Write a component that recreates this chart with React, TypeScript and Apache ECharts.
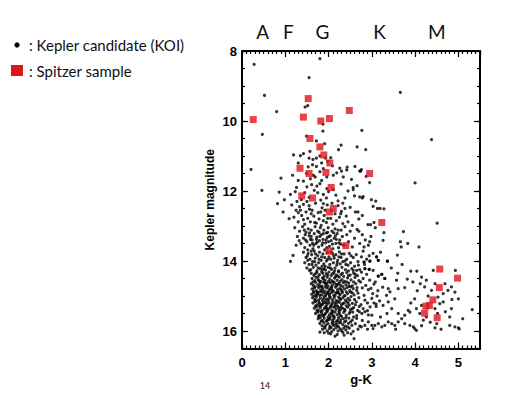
import React, { useEffect, useRef } from "react";
import * as echarts from "echarts";

// Spectral-type labels along the top (g-K position, approximate)
const spectralTypes = ["A", "F", "G", "K", "M"];
const spectralX = [0.48, 1.07, 1.86, 3.18, 4.5];

// Spitzer sample [g-K, Kepler magnitude]
const spitzerSample: number[][] = [
  [0.26, 9.96], [1.53, 9.36], [1.42, 9.89], [1.82, 10.0], [2.02, 9.93], [2.48, 9.7],
  [1.57, 10.5], [1.8, 10.74], [1.89, 10.97], [2.03, 11.2], [1.34, 11.35], [1.55, 11.5],
  [1.94, 11.47], [2.95, 11.5], [2.06, 11.9], [1.38, 12.14], [1.63, 12.2], [2.11, 12.5],
  [2.02, 12.6], [3.23, 12.9], [2.4, 13.56], [2.01, 13.72], [4.57, 14.23], [4.98, 14.49],
  [4.56, 14.76], [4.41, 15.11], [4.33, 15.27], [4.25, 15.29], [4.22, 15.49], [4.51, 15.62],
];

// Kepler candidates (KOI) - sparse / bright ones
const koiSparse: number[][] = [
  [0.28, 8.38], [1.8, 8.22], [1.55, 8.76], [0.52, 9.27], [0.8, 9.73], [1.46, 9.6], [1.52, 9.56],
  [3.66, 9.18], [0.47, 10.38], [1.87, 10.29], [1.87, 10.09], [1.49, 10.43], [1.72, 10.57],
  [2.29, 10.69], [2.23, 10.82], [2.66, 10.74], [2.77, 10.27], [4.38, 10.53], [4.0, 11.77],
  [1.19, 10.97], [1.35, 10.99], [1.42, 10.93], [1.57, 10.87], [1.55, 11.06], [1.64, 11.1],
  [1.72, 11.06], [1.8, 11.0], [1.91, 10.65], [1.93, 11.06], [2.86, 10.82], [0.9, 11.63],
  [0.46, 11.98], [0.86, 12.03], [0.82, 12.36], [0.21, 11.38], [1.12, 14.01], [1.18, 13.84],
  [1.09, 12.79], [0.95, 12.6], [0.98, 12.25],
];

// upper branch, Kp ~ 11 - 13
const koiUpper: number[][] = [
  [1.84, 11.2], [1.72, 11.3], [1.63, 11.25], [2.26, 11.35], [2.09, 11.28], [2.43, 11.32],
  [2.61, 11.3], [1.17, 11.55], [1.49, 11.5], [1.65, 11.55], [1.8, 11.45], [2.19, 11.48],
  [2.42, 11.4], [2.3, 11.43], [2.72, 11.43], [2.76, 11.39], [1.69, 11.6], [1.88, 11.36],
  [1.53, 11.31], [2.74, 11.43], [2.87, 11.58], [1.3, 11.2], [2.05, 11.05], [1.98, 11.15],
  [1.3, 11.7], [1.5, 11.88], [1.61, 11.82], [1.73, 11.86], [1.8, 11.79], [1.96, 11.93],
  [2.11, 11.96], [1.84, 11.7], [1.96, 11.6], [2.11, 11.55], [2.34, 11.6], [2.53, 11.67],
  [2.57, 11.9], [2.57, 11.96], [2.95, 11.76], [1.42, 11.72], [1.58, 11.65], [1.67, 11.98],
  [1.75, 12.05], [1.88, 12.1], [2.0, 12.02], [2.17, 12.12], [2.29, 11.8], [2.45, 12.0],
  [2.6, 12.14], [2.72, 12.17], [2.78, 12.2], [2.8, 12.16], [2.99, 12.25], [3.09, 12.29],
  [1.23, 12.02], [1.37, 12.25], [1.45, 12.05], [1.55, 12.18], [1.82, 12.26], [1.95, 12.2],
  [2.22, 12.28], [2.38, 12.2], [1.12, 12.1], [1.26, 11.9], [2.66, 11.85],
  [1.15, 12.4], [1.25, 12.55], [1.33, 12.45], [1.42, 12.38], [1.48, 12.6], [1.55, 12.42],
  [1.62, 12.55], [1.7, 12.35], [1.76, 12.62], [1.85, 12.48], [1.9, 12.7], [1.97, 12.4],
  [2.15, 12.65], [2.22, 12.42], [2.3, 12.58], [2.41, 12.72], [2.5, 12.47], [2.62, 12.6],
  [2.7, 12.8], [3.03, 12.44], [3.19, 12.5], [3.28, 12.51], [3.13, 12.5], [2.68, 12.6],
  [2.91, 12.96], [2.97, 12.96], [3.05, 12.9], [1.2, 12.75], [1.3, 12.88], [1.38, 12.7],
  [1.45, 12.95], [1.52, 12.78], [1.58, 12.88], [1.66, 12.72], [1.72, 12.92], [1.78, 12.8],
  [1.83, 12.98], [1.88, 12.85], [1.95, 12.9], [2.05, 12.78], [2.1, 12.95], [2.18, 12.85],
  [2.25, 12.75], [2.33, 12.93], [2.45, 12.88], [2.55, 12.98], [2.78, 12.7], [1.35, 12.55],
  [1.6, 12.65], [1.92, 12.55], [2.08, 12.35], [2.38, 12.5], [1.27, 12.3],
  [1.3, 12.62], [1.42, 12.82], [1.56, 12.52], [1.68, 12.9], [1.82, 12.6], [1.98, 12.78],
  [2.28, 12.65], [1.5, 12.3], [1.88, 12.36], [2.33, 12.35],
];

// Kp ~ 13 - 14.3
const koiMiddle: number[][] = [
  [1.22, 13.05], [1.28, 13.3], [1.33, 13.15], [1.36, 13.5], [1.4, 13.02], [1.42, 13.35],
  [1.45, 13.62], [1.48, 13.18], [1.5, 13.45], [1.53, 13.08], [1.55, 13.28], [1.57, 13.55],
  [1.6, 13.12], [1.62, 13.4], [1.64, 13.65], [1.67, 13.22], [1.69, 13.02], [1.71, 13.5],
  [1.73, 13.32], [1.75, 13.15], [1.77, 13.6], [1.79, 13.42], [1.81, 13.05], [1.83, 13.25],
  [1.85, 13.55], [1.87, 13.38], [1.89, 13.12], [1.91, 13.68], [1.93, 13.48], [1.95, 13.2],
  [1.97, 13.33], [1.99, 13.05], [2.02, 13.58], [2.04, 13.28], [2.06, 13.42], [2.08, 13.15],
  [2.1, 13.65], [2.13, 13.35], [2.15, 13.08], [2.17, 13.5], [2.2, 13.22], [2.23, 13.62],
  [2.26, 13.4], [2.29, 13.12], [2.32, 13.3], [2.35, 13.55], [2.38, 13.02], [2.42, 13.25],
  [2.46, 13.45], [2.5, 13.15], [2.55, 13.6], [2.6, 13.35], [2.66, 13.1], [2.72, 13.5],
  [2.78, 13.25], [2.85, 13.4], [2.92, 13.55], [2.98, 13.3], [3.08, 13.05], [3.28, 13.19],
  [3.73, 13.16], [4.51, 12.92], [3.26, 13.41], [3.66, 13.45], [3.83, 13.5], [4.09, 13.6],
  [3.68, 13.6], [2.7, 13.15], [2.82, 13.6], [2.95, 13.45], [1.58, 13.38], [1.74, 13.46],
  [1.88, 13.22], [2.0, 13.45], [2.12, 13.2], [2.28, 13.52], [1.46, 13.25], [1.66, 13.55],
  [1.96, 13.62], [2.18, 13.38], [1.32, 13.42], [1.25, 13.55], [1.52, 13.68],
  [1.42, 13.75], [1.45, 14.05], [1.48, 13.9], [1.5, 14.2], [1.53, 13.78], [1.55, 14.1],
  [1.57, 13.95], [1.59, 14.25], [1.61, 13.82], [1.63, 14.02], [1.65, 14.18], [1.67, 13.72],
  [1.69, 13.92], [1.71, 14.12], [1.73, 14.28], [1.75, 13.85], [1.77, 14.05], [1.79, 13.75],
  [1.81, 14.22], [1.83, 13.98], [1.85, 14.15], [1.87, 13.8], [1.89, 14.08], [1.91, 13.9],
  [1.93, 14.26], [1.95, 14.0], [1.97, 13.76], [1.99, 14.18], [2.01, 13.88], [2.03, 14.1],
  [2.05, 13.95], [2.07, 14.24], [2.09, 13.78], [2.11, 14.05], [2.13, 13.92], [2.15, 14.2],
  [2.17, 13.82], [2.19, 14.12], [2.21, 13.98], [2.23, 14.28], [2.25, 13.74], [2.27, 14.08],
  [2.29, 13.9], [2.31, 14.18], [2.33, 14.02], [2.36, 13.8], [2.39, 14.25], [2.42, 13.95],
  [2.45, 14.12], [2.48, 13.78], [2.51, 14.05], [2.54, 14.22], [2.57, 13.9], [2.6, 14.15],
  [2.64, 13.82], [2.68, 14.02], [2.72, 14.25], [2.76, 13.88], [2.8, 13.72], [2.83, 14.1],
  [2.88, 13.95], [2.94, 14.24], [2.82, 14.03], [2.96, 14.0], [3.11, 13.88], [3.15, 13.98],
  [3.36, 14.0], [2.69, 14.12], [2.65, 14.27], [2.84, 14.22], [2.94, 13.85], [3.03, 13.78],
  [3.2, 13.75], [3.59, 13.83], [1.6, 13.72], [1.78, 13.95], [1.92, 14.15], [2.06, 13.75],
  [2.24, 13.88], [2.38, 14.0], [2.52, 13.85], [1.68, 14.02], [1.86, 14.25], [2.14, 14.28],
  [2.46, 14.28], [1.52, 13.98],
  [1.47, 13.4], [1.56, 13.2], [1.63, 13.5], [1.72, 13.38], [1.8, 13.3], [1.86, 13.48],
  [1.94, 13.4], [2.01, 13.3], [2.09, 13.52], [2.16, 13.28], [2.24, 13.48], [1.51, 13.85],
  [1.62, 14.1], [1.7, 13.8], [1.76, 14.2], [1.84, 13.88], [1.9, 14.22], [1.98, 13.95],
  [2.04, 14.2], [2.12, 13.85], [2.2, 14.05], [2.3, 13.8], [2.4, 14.1], [1.56, 14.27],
  [2.57, 14.27], [1.44, 13.12], [1.6, 13.3], [1.78, 13.18], [1.98, 13.18], [2.22, 13.12],
];

// dense main-sequence core, Kp ~ 14.3 - 16.2
const koiCore: number[][] = [
  [1.6, 14.35], [1.66, 14.41], [1.73, 14.33], [1.79, 14.39], [1.84, 14.31], [1.9, 14.43],
  [1.95, 14.36], [2.01, 14.32], [2.06, 14.42], [2.12, 14.34], [2.18, 14.4], [2.23, 14.31],
  [2.29, 14.38], [2.35, 14.44], [2.42, 14.33], [2.5, 14.4], [2.58, 14.35], [2.67, 14.42],
  [2.76, 14.32], [2.88, 14.38], [3.15, 14.43], [3.23, 14.38], [3.3, 14.5],
  [1.62, 14.5], [1.68, 14.56], [1.71, 14.47], [1.76, 14.53], [1.82, 14.58], [1.86, 14.48],
  [1.92, 14.55], [1.97, 14.46], [2.03, 14.52], [2.08, 14.57], [2.14, 14.49], [2.2, 14.55],
  [2.25, 14.46], [2.31, 14.53], [2.37, 14.58], [2.44, 14.48], [2.52, 14.54], [2.61, 14.47],
  [2.7, 14.56], [2.8, 14.5], [2.95, 14.55], [1.88, 14.51], [2.16, 14.45],
  [1.6, 14.65], [1.65, 14.7], [1.7, 14.61], [1.75, 14.68], [1.8, 14.63], [1.85, 14.72],
  [1.89, 14.6], [1.94, 14.67], [1.99, 14.72], [2.04, 14.62], [2.09, 14.69], [2.13, 14.61],
  [2.19, 14.71], [2.24, 14.64], [2.28, 14.7], [2.34, 14.62], [2.4, 14.68], [2.47, 14.63],
  [2.55, 14.71], [2.63, 14.65], [2.74, 14.6], [2.86, 14.7], [3.05, 14.66], [1.96, 14.64],
  [2.22, 14.66],
  [1.62, 14.8], [1.67, 14.77], [1.72, 14.85], [1.77, 14.76], [1.82, 14.83], [1.87, 14.79],
  [1.91, 14.86], [1.96, 14.77], [2.01, 14.84], [2.06, 14.78], [2.11, 14.87], [2.16, 14.75],
  [2.21, 14.82], [2.26, 14.78], [2.31, 14.86], [2.37, 14.8], [2.43, 14.76], [2.49, 14.85],
  [2.57, 14.79], [2.65, 14.84], [2.78, 14.77], [2.92, 14.82], [3.14, 14.85], [2.03, 14.8],
  [1.84, 14.75],
  [1.61, 14.95], [1.66, 14.9], [1.71, 14.98], [1.75, 14.92], [1.8, 14.88], [1.84, 14.97],
  [1.89, 14.91], [1.93, 14.99], [1.98, 14.89], [2.02, 14.95], [2.07, 14.9], [2.12, 14.98],
  [2.17, 14.92], [2.22, 14.88], [2.27, 14.96], [2.32, 14.9], [2.38, 14.99], [2.44, 14.93],
  [2.51, 14.89], [2.59, 14.97], [2.68, 14.92], [2.82, 14.98], [3.02, 14.93], [1.95, 14.94],
  [2.24, 14.93],
  [1.63, 15.05], [1.68, 15.1], [1.72, 15.03], [1.77, 15.12], [1.81, 15.06], [1.86, 15.13],
  [1.9, 15.02], [1.95, 15.09], [1.99, 15.14], [2.04, 15.04], [2.08, 15.11], [2.13, 15.06],
  [2.18, 15.13], [2.23, 15.03], [2.28, 15.1], [2.33, 15.05], [2.39, 15.12], [2.45, 15.07],
  [2.52, 15.02], [2.6, 15.1], [2.7, 15.05], [2.84, 15.12], [3.0, 15.07], [3.18, 15.14],
  [2.0, 15.08],
  [1.64, 15.2], [1.69, 15.16], [1.74, 15.25], [1.78, 15.18], [1.83, 15.27], [1.88, 15.2],
  [1.92, 15.16], [1.97, 15.24], [2.01, 15.19], [2.06, 15.27], [2.11, 15.17], [2.15, 15.23],
  [2.2, 15.28], [2.25, 15.18], [2.3, 15.25], [2.36, 15.2], [2.42, 15.16], [2.48, 15.26],
  [2.55, 15.21], [2.64, 15.17], [2.75, 15.25], [2.9, 15.2], [3.1, 15.23], [1.86, 15.24],
  [2.18, 15.2],
  [1.67, 15.35], [1.72, 15.31], [1.76, 15.4], [1.81, 15.33], [1.85, 15.42], [1.9, 15.36],
  [1.94, 15.3], [1.99, 15.39], [2.03, 15.34], [2.08, 15.41], [2.12, 15.32], [2.17, 15.38],
  [2.22, 15.31], [2.27, 15.4], [2.32, 15.35], [2.38, 15.42], [2.44, 15.32], [2.51, 15.38],
  [2.58, 15.33], [2.67, 15.41], [2.8, 15.36], [2.96, 15.31], [1.96, 15.35], [2.24, 15.36],
  [1.7, 15.5], [1.75, 15.46], [1.79, 15.55], [1.84, 15.48], [1.88, 15.57], [1.93, 15.5],
  [1.97, 15.45], [2.02, 15.54], [2.06, 15.48], [2.11, 15.57], [2.15, 15.46], [2.2, 15.53],
  [2.25, 15.49], [2.3, 15.58], [2.35, 15.47], [2.41, 15.55], [2.48, 15.5], [2.56, 15.46],
  [2.65, 15.56], [2.77, 15.5], [2.92, 15.54], [2.08, 15.52], [1.91, 15.53],
  [1.76, 15.65], [1.81, 15.62], [1.86, 15.7], [1.9, 15.63], [1.95, 15.72], [1.99, 15.66],
  [2.04, 15.61], [2.09, 15.69], [2.13, 15.64], [2.18, 15.73], [2.23, 15.62], [2.28, 15.68],
  [2.34, 15.65], [2.4, 15.71], [2.47, 15.63], [2.55, 15.69], [2.65, 15.64], [2.78, 15.7],
  [2.02, 15.67], [2.21, 15.7],
  [1.8, 15.78], [1.85, 15.85], [1.89, 15.76], [1.94, 15.83], [1.99, 15.79], [2.03, 15.87],
  [2.08, 15.77], [2.13, 15.84], [2.18, 15.8], [2.23, 15.88], [2.28, 15.76], [2.33, 15.82],
  [2.39, 15.86], [2.46, 15.78], [2.54, 15.84], [2.62, 15.79], [2.72, 15.86], [2.1, 15.81],
  [1.86, 15.95], [1.92, 15.92], [1.97, 16.0], [2.02, 15.93], [2.07, 16.02], [2.12, 15.96],
  [2.17, 15.91], [2.22, 16.0], [2.27, 15.94], [2.33, 16.04], [2.4, 15.97], [2.48, 15.92],
  [2.57, 16.01], [2.68, 15.95], [1.8, 16.03], [2.05, 16.08], [2.2, 16.1], [2.36, 16.12],
  [2.52, 16.08], [2.59, 16.22], [2.15, 16.15],
];

// extra points in the crowded core
const koiCoreFill: number[][] = [
  [1.69, 14.37], [1.76, 14.45], [1.87, 14.35], [1.98, 14.4], [2.09, 14.37], [2.21, 14.43],
  [2.32, 14.35], [2.46, 14.42], [2.62, 14.38], [1.64, 14.6], [1.78, 14.57], [1.91, 14.62],
  [2.0, 14.58], [2.11, 14.6], [2.27, 14.58], [2.42, 14.6], [2.58, 14.6], [1.69, 14.74],
  [1.79, 14.71], [1.93, 14.73], [2.07, 14.74], [2.17, 14.67], [2.33, 14.73], [2.51, 14.74],
  [1.65, 14.87], [1.74, 14.89], [1.85, 14.87], [1.99, 14.92], [2.09, 14.83], [2.19, 14.9],
  [2.29, 14.82], [2.41, 14.88], [2.55, 14.91], [1.66, 15.0], [1.79, 14.98], [1.88, 15.08],
  [2.02, 15.0], [2.15, 14.99], [2.26, 15.07], [2.36, 15.0], [2.49, 15.12], [1.71, 15.14],
  [1.8, 15.22], [1.94, 15.2], [2.08, 15.22], [2.22, 15.15], [2.33, 15.22], [2.45, 15.2],
  [2.62, 15.25], [1.7, 15.28], [1.79, 15.29], [1.92, 15.33], [2.05, 15.3], [2.15, 15.3],
  [2.29, 15.32], [2.41, 15.28], [2.55, 15.36], [1.73, 15.42], [1.82, 15.44], [1.96, 15.42],
  [2.1, 15.45], [2.24, 15.44], [2.37, 15.38], [2.5, 15.45], [2.71, 15.45], [1.77, 15.58],
  [1.86, 15.55], [1.99, 15.6], [2.13, 15.59], [2.27, 15.55], [2.4, 15.62], [2.58, 15.6],
  [1.83, 15.72], [1.97, 15.7], [2.11, 15.74], [2.25, 15.76], [2.37, 15.74], [2.51, 15.74],
  [1.91, 15.88], [2.06, 15.9], [2.2, 15.85], [2.35, 15.92], [2.44, 15.88], [2.0, 16.06],
  [2.3, 15.99], [2.44, 16.05], [1.73, 14.95], [2.47, 14.72], [2.66, 14.76], [2.71, 15.3],
  [2.84, 15.45], [1.9, 16.05],
];

// red (M-dwarf) arm to the right
const koiGiantArm: number[][] = [
  [2.82, 14.03], [2.95, 14.01], [3.11, 13.88], [3.15, 13.98], [3.36, 14.01], [3.9, 14.29],
  [4.04, 14.29], [4.42, 14.27], [4.93, 14.27], [2.94, 14.24], [3.03, 14.27], [2.84, 14.22],
  [3.15, 14.43], [3.23, 14.38], [3.3, 14.5], [3.57, 14.55], [3.82, 14.52], [3.76, 14.76],
  [3.61, 14.79], [4.15, 14.46], [4.26, 14.55], [4.12, 14.65], [4.22, 14.74], [4.46, 14.65],
  [4.69, 14.65], [4.84, 14.74], [4.76, 14.84], [4.38, 14.84], [4.65, 14.93], [4.92, 14.89],
  [5.0, 15.08], [5.32, 15.39], [3.38, 14.79], [3.42, 14.88], [3.34, 14.98], [3.53, 15.08],
  [3.38, 15.17], [3.26, 15.27], [3.46, 15.36], [3.61, 15.5], [3.76, 15.55], [3.69, 15.65],
  [3.84, 15.41], [3.88, 15.46], [3.99, 15.08], [4.03, 15.36], [4.15, 15.27], [4.11, 15.5],
  [4.19, 15.69], [4.26, 15.6], [4.53, 15.03], [4.57, 15.22], [4.65, 15.17], [4.46, 15.36],
  [4.52, 15.5], [4.84, 15.36], [4.8, 15.6], [4.92, 15.88], [5.0, 15.91], [4.8, 15.84],
  [4.5, 15.79], [4.46, 15.91], [3.38, 15.74], [3.46, 15.79], [3.53, 15.84], [3.61, 15.74],
  [3.76, 15.79], [3.88, 15.84], [3.96, 15.88], [3.99, 15.93], [4.03, 15.98], [3.07, 15.84],
  [3.15, 15.79], [3.23, 15.88], [3.3, 15.84], [2.92, 15.74], [3.0, 15.84], [3.03, 15.93],
  [2.84, 15.84], [2.76, 15.88], [5.02, 15.94], [3.45, 14.2], [3.6, 14.35], [3.7, 14.1],
  [3.95, 14.6], [4.05, 14.85], [4.3, 15.0], [4.7, 15.45], [4.85, 15.1], [5.1, 15.65],
  [3.9, 15.2], [3.2, 15.6], [3.35, 15.5], [3.1, 15.3], [3.0, 15.55], [2.9, 15.95],
  [4.35, 15.75], [4.6, 15.95], [4.15, 15.85], [3.55, 15.95], [3.08, 14.6], [3.25, 14.75],
  [3.12, 15.0], [2.98, 14.78], [3.05, 15.2], [2.9, 15.42],
];

const koiAll = [...koiSparse, ...koiUpper, ...koiMiddle, ...koiCore, ...koiCoreFill, ...koiGiantArm];

const X_MIN = 0, X_MAX = 5.5, Y_MIN = 8, Y_MAX = 16.5;

const labelFont = {
  color: "#000",
  fontFamily: "Liberation Sans",
  fontWeight: "bold" as const,
  fontSize: 13,
};

function makeX(position: "bottom" | "top", major: boolean, withLabels: boolean) {
  return {
    type: "value",
    position,
    min: X_MIN,
    max: X_MAX,
    interval: major ? 1 : 0.1,
    axisLine: { show: major, onZero: false, lineStyle: { color: "#000", width: 2 } },
    axisTick: { show: true, inside: true, length: major ? 6 : 3, lineStyle: { color: "#000", width: 1.2 } },
    axisLabel: withLabels
      ? { show: true, showMaxLabel: false, margin: 7, ...labelFont }
      : { show: false },
    splitLine: { show: false },
    ...(withLabels
      ? {
          name: "g-K",
          nameLocation: "middle",
          nameGap: 24,
          nameTextStyle: { ...labelFont },
        }
      : {}),
  };
}

function makeY(position: "left" | "right", major: boolean, withLabels: boolean) {
  return {
    type: "value",
    position,
    inverse: true,
    min: Y_MIN,
    max: Y_MAX,
    interval: major ? 2 : 0.5,
    axisLine: { show: major, onZero: false, lineStyle: { color: "#000", width: 2 } },
    axisTick: { show: true, inside: true, length: major ? 6 : 3, lineStyle: { color: "#000", width: 1.2 } },
    axisLabel: withLabels
      ? { show: true, showMaxLabel: false, margin: 5, ...labelFont }
      : { show: false },
    splitLine: { show: false },
    ...(withLabels
      ? {
          name: "Kepler magnitude",
          nameLocation: "middle",
          nameGap: 26,
          nameTextStyle: { ...labelFont, fontSize: 12 },
        }
      : {}),
  };
}

export default function App() {
  const ref = useRef<HTMLDivElement>(null);
  useEffect(() => {
    if (!ref.current) return;
    const chart = echarts.init(ref.current, undefined, { renderer: "svg" });
    const gridLeft = 242, gridTop = 51, gridRight = 50, gridBottom = 49.5;
    const plotW = 530 - gridLeft - gridRight;
    const xPix = (v: number) => gridLeft + ((v - X_MIN) / (X_MAX - X_MIN)) * plotW;

    chart.setOption({
      animation: false,
      backgroundColor: "#fff",
      grid: { left: gridLeft, top: gridTop, right: gridRight, bottom: gridBottom, containLabel: false },
      xAxis: [
        makeX("bottom", true, true),
        makeX("bottom", false, false),
        makeX("top", true, false),
        makeX("top", false, false),
      ],
      yAxis: [
        makeY("left", true, true),
        makeY("left", false, false),
        makeY("right", true, false),
        makeY("right", false, false),
      ],
      series: [
        {
          name: "Kepler candidate (KOI)",
          type: "scatter",
          xAxisIndex: 0,
          yAxisIndex: 0,
          data: koiAll,
          symbol: "circle",
          symbolSize: 3.2,
          itemStyle: { color: "#000" },
          silent: true,
        },
        {
          name: "Spitzer sample",
          type: "scatter",
          xAxisIndex: 0,
          yAxisIndex: 0,
          data: spitzerSample,
          symbol: "rect",
          symbolSize: 7,
          itemStyle: { color: "#e0141b" },
          silent: true,
        },
      ],
      graphic: [
        { type: "circle", shape: { cx: 17, cy: 45, r: 2.6 }, style: { fill: "#000" } },
        {
          type: "text",
          x: 29,
          y: 45,
          style: {
            text: ": Kepler candidate (KOI)",
            font: "15px Lato",
            fill: "#111",
            textAlign: "left",
            textVerticalAlign: "middle",
            align: "left",
            verticalAlign: "middle",
          },
        },
        { type: "rect", shape: { x: 11, y: 65, width: 12, height: 11 }, style: { fill: "#e0141b" } },
        {
          type: "text",
          x: 29,
          y: 71,
          style: {
            text: ": Spitzer sample",
            font: "15px Lato",
            fill: "#111",
            textAlign: "left",
            textVerticalAlign: "middle",
            align: "left",
            verticalAlign: "middle",
          },
        },
        ...spectralTypes.map((t, i) => ({
          type: "text",
          x: xPix(spectralX[i]),
          y: 31,
          style: {
            text: t,
            font: "19px Lato",
            fill: "#111",
            textAlign: "center",
            textVerticalAlign: "middle",
            align: "center",
            verticalAlign: "middle",
          },
        })),
        {
          type: "text",
          x: 265,
          y: 385,
          style: {
            text: "14",
            font: "9px Lato",
            fill: "#222",
            textAlign: "center",
            textVerticalAlign: "middle",
            align: "center",
            verticalAlign: "middle",
          },
        },
      ],
    });
    return () => chart.dispose();
  }, []);
  return (
    <div
      ref={ref}
      style={{ position: "absolute", left: 0, top: 0, width: 530, height: 398, background: "#fff" }}
    />
  );
}
